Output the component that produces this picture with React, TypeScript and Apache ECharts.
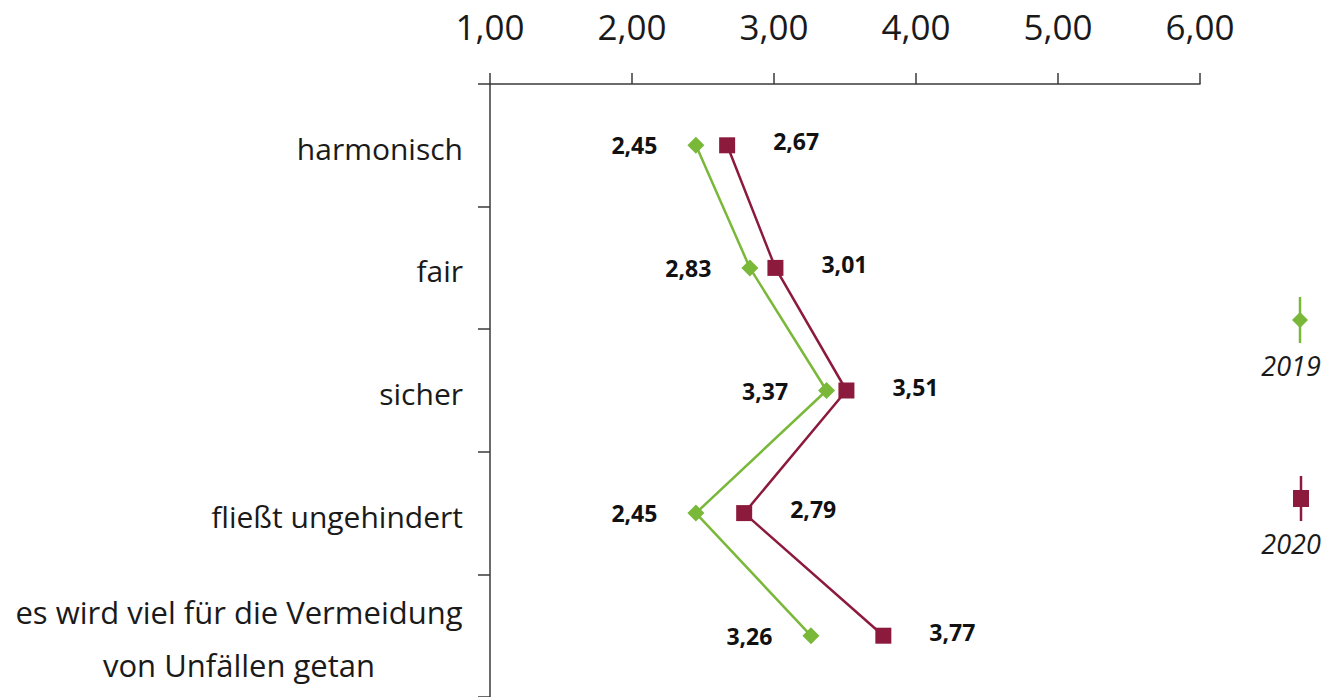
import React, { useEffect, useRef } from "react";
import * as echarts from "echarts";

const categories = [
  "harmonisch",
  "fair",
  "sicher",
  "fließt ungehindert",
  "es wird viel für die Vermeidung\nvon Unfällen getan",
];
const values2019 = [2.45, 2.83, 3.37, 2.45, 3.26];
const values2020 = [2.67, 3.01, 3.51, 2.79, 3.77];
const xTicks = [1, 2, 3, 4, 5, 6];

const GREEN = "#7ab83a";
const RED = "#8c1a3d";
const FONT = "'Open Sans', 'Noto Sans', sans-serif";

const fmt = (v: number) => v.toFixed(2).replace(".", ",");

export default function App() {
  const ref = useRef<HTMLDivElement>(null);
  useEffect(() => {
    if (!ref.current) return;
    const chart = echarts.init(ref.current, null, { renderer: "svg" });
    const labelFmt = (p: any) => fmt(Array.isArray(p.value) ? p.value[0] : p.value);
    chart.setOption({
      animation: false,
      textStyle: { fontFamily: FONT },
      grid: { left: 490, top: 84, width: 710, height: 615 },
      xAxis: {
        type: "value",
        position: "top",
        min: xTicks[0],
        max: xTicks[xTicks.length - 1],
        interval: 1,
        axisLine: { show: true, lineStyle: { color: "#3a3a3a", width: 1.5 } },
        axisTick: { show: true, inside: false, length: 11, lineStyle: { color: "#3a3a3a", width: 1.5 } },
        splitLine: { show: false },
        axisLabel: {
          formatter: (v: number) => fmt(v),
          fontSize: 35,
          color: "#1a1a1a",
          margin: 40,
          fontFamily: FONT,
        },
      },
      yAxis: {
        type: "category",
        inverse: true,
        data: categories,
        axisLine: { show: true, lineStyle: { color: "#3a3a3a", width: 1.5 } },
        axisTick: { show: true, inside: false, length: 12, lineStyle: { color: "#3a3a3a", width: 1.5 } },
        axisLabel: {
          fontSize: 30,
          color: "#1a1a1a",
          margin: 27,
          padding: [6, 0, 0, 0],
          fontFamily: FONT,
          lineHeight: 53,
          formatter: (v: string) =>
            v.includes("\n")
              ? v.split("\n").map((l) => `{c|${l}}`).join("\n")
              : v,
          rich: {
            c: { width: 448, align: "center", fontSize: 31, lineHeight: 53, color: "#1a1a1a", fontFamily: FONT },
          },
        },
      },
      series: [
        {
          name: "2019",
          type: "line",
          data: values2019,
          symbol: "diamond",
          symbolSize: 17,
          lineStyle: { color: GREEN, width: 2.5 },
          itemStyle: { color: GREEN },
          label: {
            show: true,
            position: "left",
            distance: 30,
            formatter: labelFmt,
            fontSize: 23,
            fontWeight: "bold",
            color: "#111",
            fontFamily: FONT,
          },
        },
        {
          name: "2020",
          type: "line",
          data: values2020,
          symbol: "rect",
          symbolSize: 16,
          lineStyle: { color: RED, width: 2.5 },
          itemStyle: { color: RED },
          label: {
            show: true,
            position: "right",
            distance: 38,
            offset: [0, -4],
            formatter: labelFmt,
            fontSize: 23,
            fontWeight: "bold",
            color: "#111",
            fontFamily: FONT,
          },
        },
      ],
      graphic: [
        { type: "line", shape: { x1: 1300, y1: 297, x2: 1300, y2: 343 }, style: { stroke: GREEN, lineWidth: 2.5 } },
        { type: "polygon", shape: { points: [[1300, 312], [1308, 320], [1300, 328], [1292, 320]] }, style: { fill: GREEN } },
        { type: "text", x: 1291, y: 365, style: { text: "2019", fontSize: 27, fontStyle: "italic", fill: "#1a1a1a", fontFamily: FONT, align: "center", verticalAlign: "middle" } },
        { type: "line", shape: { x1: 1301, y1: 476, x2: 1301, y2: 521 }, style: { stroke: RED, lineWidth: 2.5 } },
        { type: "rect", shape: { x: 1293, y: 490, width: 16, height: 17 }, style: { fill: RED } },
        { type: "text", x: 1291, y: 543, style: { text: "2020", fontSize: 27, fontStyle: "italic", fill: "#1a1a1a", fontFamily: FONT, align: "center", verticalAlign: "middle" } },
      ],
    });
    return () => chart.dispose();
  }, []);
  return <div ref={ref} style={{ position: "absolute", left: 0, top: 0, width: 1329, height: 697 }} />;
}
